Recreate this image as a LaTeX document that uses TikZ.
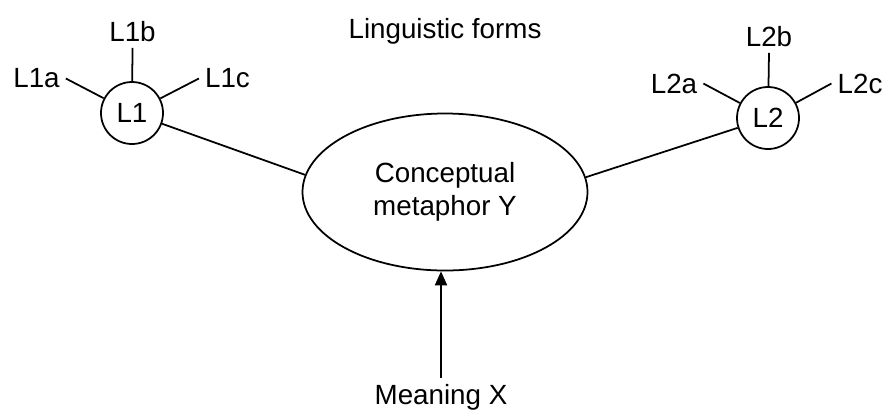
\documentclass[tikz,border=0pt]{standalone}
\usepackage{fontspec}
\setmainfont{Liberation Sans}
\usetikzlibrary{arrows.meta,shapes.geometric}

\tikzset{
  txt/.style = {font=\fontsize{15.8}{19}\selectfont},
  form/.style = {circle, draw, line width=1pt, minimum size=1.24cm, inner sep=0pt, txt},
  link/.style = {line width=1pt}
}

\begin{document}
\begin{tikzpicture}
\useasboundingbox (0,0) rectangle (17.78,-8.3);

\node[txt] (lf) at (8.9, -0.62) {Linguistic forms};

% left cluster
\node[form] (l1) at (2.64, -2.26) {L1};
\node[txt] (l1a) at (0.73, -1.57) {L1a};
\node[txt] (l1b) at (2.65, -0.63) {L1b};
\node[txt] (l1c) at (4.55, -1.57) {L1c};

% right cluster
\node[form] (l2) at (7.68*2, -2.36) {L2};
\node[txt] (l2a) at (13.48, -1.67) {L2a};
\node[txt] (l2b) at (15.38, -0.73) {L2b};
\node[txt] (l2c) at (17.2, -1.67) {L2c};

\node[ellipse, draw, line width=1pt, minimum width=5.7cm, minimum height=3.14cm,
      align=center, txt] (cm) at (8.9, -3.84) {Conceptual\\metaphor Y};
\node[txt] (mx) at (8.82, -7.94) {Meaning X};

\draw[link] (l1a.east) -- (l1);
\draw[link] (l1b.south) -- (l1);
\draw[link] (l1c.west) -- (l1);
\draw[link] (l2a.east) -- (l2);
\draw[link] (l2b.south) -- (l2);
\draw[link] (l2c.west) -- (l2);

\draw[link] (l1) -- (cm.173);
\draw[link] (l2) -- (cm.6);
\draw[line width=0.7pt, -{Triangle[length=8pt,width=7pt]}] (mx.north) -- (mx.north |- cm.south);
\end{tikzpicture}
\end{document}
